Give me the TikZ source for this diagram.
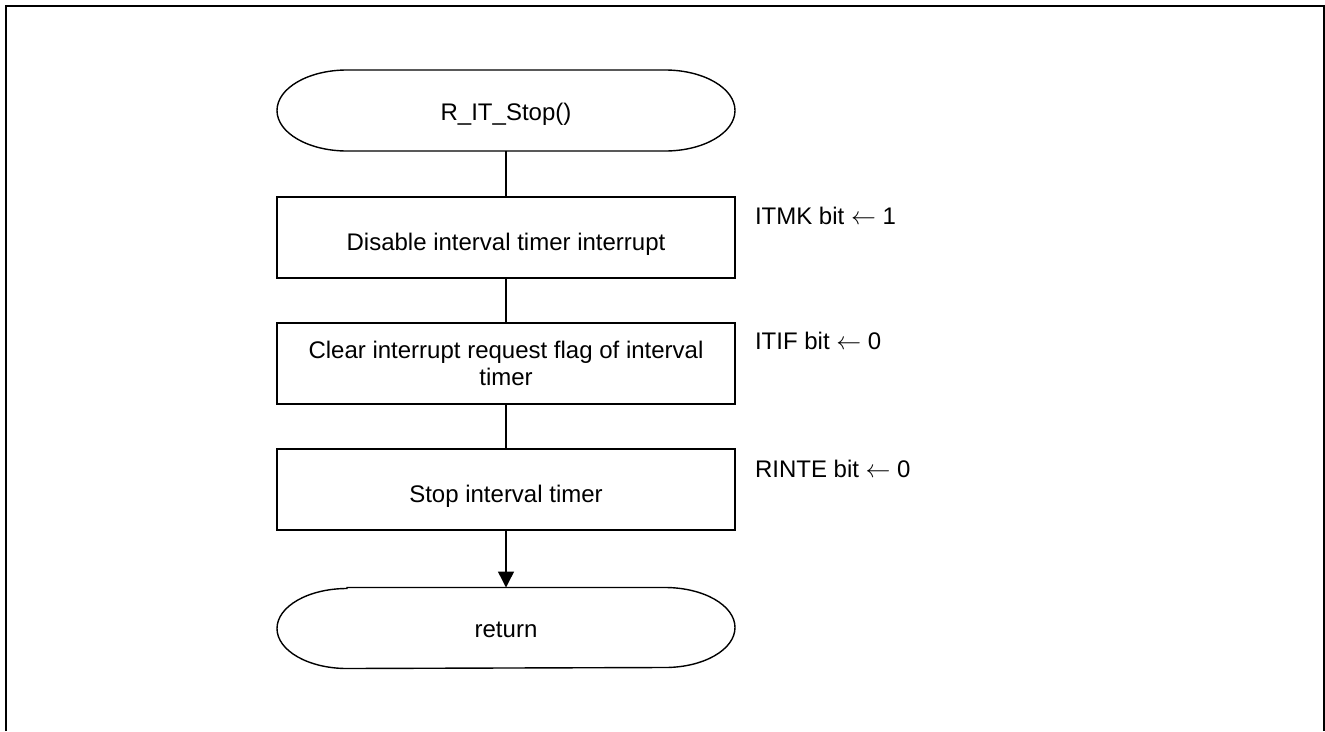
\documentclass[tikz,border=0pt]{standalone}
\usepackage{fontspec}
\setmainfont{Liberation Sans}
\usetikzlibrary{arrows.meta}
\begin{document}
\begin{tikzpicture}[x=1pt,y=1pt,
  every node/.style={font=\fontsize{24}{27}\selectfont, inner sep=0pt, outer sep=0pt},
  procbox/.style={draw, line width=2pt, minimum width=458pt, minimum height=81pt, align=center},
  onebox/.style={procbox, text height=25pt, text depth=0pt},
  termnode/.style={minimum width=458pt, minimum height=81pt, text height=19pt, text depth=0pt},
  termline/.style={line width=1.4pt},
  conn/.style={line width=1.4pt},
  note/.style={anchor=base west}
]
\useasboundingbox (0,0) rectangle (1325,-731);
% outer frame
\draw[line width=2.6pt] (6,-731) -- (6,-6) -- (1324.5,-6) -- (1324.5,-731);

% start terminal
\node[termnode] (start) at (506,-110.5) {R\_IT\_Stop()};
\draw[termline] ([xshift=70pt]start.north west) -- ([xshift=-70pt]start.north east)
  arc[start angle=90,end angle=-90,x radius=70pt,y radius=40.5pt]
  -- ([xshift=70pt]start.south west)
  arc[start angle=270,end angle=90,x radius=70pt,y radius=40.5pt] -- cycle;

\node[onebox] (b1) at (506,-237.5) {Disable interval timer interrupt};
\node[procbox] (b2) at (506,-363.5) {Clear interrupt request flag of interval\\timer};
\node[onebox] (b3) at (506,-489.5) {Stop interval timer};

% return terminal
\node[termnode] (ret) at (506,-628) {return};
\draw[termline] ([xshift=70pt]ret.north west) -- ([xshift=-70pt]ret.north east)
  arc[start angle=90,end angle=-90,x radius=70pt,y radius=40pt]
  -- ([xshift=70pt]ret.south west)
  arc[start angle=270,end angle=90,x radius=70pt,y radius=40pt] -- cycle;

% connectors
\draw[conn] (start.south) -- (b1.north);
\draw[conn] (b1.south) -- (b2.north);
\draw[conn] (b2.south) -- (b3.north);
\draw[conn, -{Triangle[length=16pt,width=16pt]}] (b3.south) -- (ret.north);

% annotations
\node[note] (n1) at (755,-224) {ITMK bit \(\leftarrow\) 1};
\node[note] (n2) at (755,-349) {ITIF bit \(\leftarrow\) 0};
\node[note] (n3) at (755,-477) {RINTE bit \(\leftarrow\) 0};
\end{tikzpicture}
\end{document}
